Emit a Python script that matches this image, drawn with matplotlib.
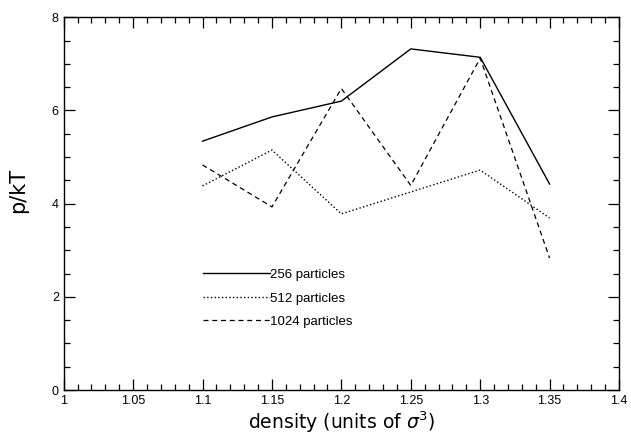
import matplotlib.pyplot as plt
from matplotlib.ticker import MultipleLocator

# --- data ---
density = [1.1, 1.15, 1.2, 1.25, 1.3, 1.35]
p_256 = [5.34, 5.86, 6.20, 7.32, 7.14, 4.42]
p_512 = [4.38, 5.15, 3.78, 4.25, 4.72, 3.69]
p_1024 = [4.83, 3.93, 6.47, 4.39, 7.12, 2.83]
xtick_vals = [1, 1.05, 1.1, 1.15, 1.2, 1.25, 1.3, 1.35, 1.4]
xtick_labels = ['1', '1.05', '1.1', '1.15', '1.2', '1.25', '1.3', '1.35', '1.4']

fig = plt.figure(figsize=(6.31, 4.36), dpi=100)
ax = fig.add_axes([0.101, 0.1055, 0.880, 0.855])

ax.plot(density, p_256, '-', color='black', lw=1.0, label='256 particles')
ax.plot(density, p_512, ':', color='black', lw=1.0, label='512 particles')
ax.plot(density, p_1024, '--', color='black', lw=0.9, dashes=(4, 3),
        label='1024 particles')

ax.set_xlim(1, 1.4)
ax.set_ylim(0, 8)
ax.set_xticks(xtick_vals)
ax.set_xticklabels(xtick_labels)
ax.xaxis.set_minor_locator(MultipleLocator(0.01))
ax.yaxis.set_major_locator(MultipleLocator(2))
ax.yaxis.set_minor_locator(MultipleLocator(0.5))

ax.tick_params(which='both', direction='in', top=True, right=True,
               width=0.9, labelsize=9)
ax.tick_params(which='major', length=8)
ax.tick_params(which='minor', length=4)
for lab in ax.get_xticklabels() + ax.get_yticklabels():
    lab.set_family('Liberation Sans')
for s in ax.spines.values():
    s.set_linewidth(1.0)

ax.set_xlabel(r'density (units of $\sigma^3$)', fontsize=13.5, labelpad=2)
ax.set_ylabel('p/kT', fontsize=15)
ax.yaxis.set_label_coords(-0.064, 0.534)

leg = ax.legend(loc='upper left', bbox_to_anchor=(0.25, 0.325), frameon=False,
                handlelength=5.1, handletextpad=0, borderpad=0, borderaxespad=0,
                labelspacing=0.85, prop={'family': 'Liberation Sans', 'size': 9.5})

fig.savefig('out.png', dpi=100)
